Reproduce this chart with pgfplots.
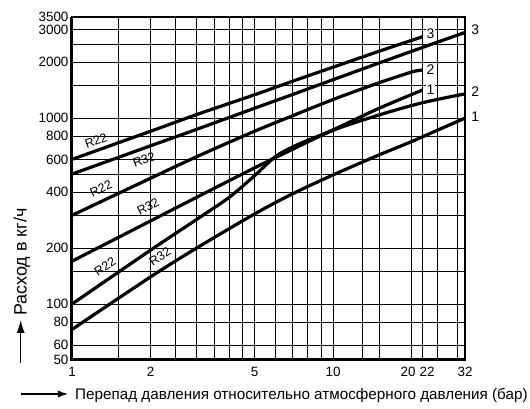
\documentclass[border=0pt]{standalone}
\usepackage{fontspec}
\setmainfont{Liberation Sans}
\usepackage{pgfplots}
\pgfplotsset{compat=1.18}
\usetikzlibrary{arrows.meta}
\begin{document}
\begin{tikzpicture}
\begin{axis}[
  xmode=log, ymode=log,
  scale only axis, width=393bp, height=343bp,
  xmin=1, xmax=32, ymin=50, ymax=3500,
  xtick={1,2,5,10,20,22,32},
  xticklabels={1,2,5,10,\hspace*{-7bp}20,22\hspace*{-9bp},32},
  minor xtick={1.5,2.5,3,3.5,4,4.5,6,7,8,9,13,15,25,30},
  ytick={50,60,80,100,200,400,600,800,1000,2000,3000,3500},
  yticklabels={50,60,80,100,200,400,600,800,1000,2000,3000,3500},
  minor ytick={150,300,500,1500,2500},
  grid=both,
  major grid style={black, line width=0.9bp},
  minor grid style={black, line width=0.9bp},
  tick style={draw=none},
  axis line style={black, line width=1.2bp},
  ticklabel style={font=\fontsize{13.5}{16}\selectfont},
  xticklabel style={yshift=-4bp},
  /pgf/number format/assume math mode=true,
  clip=false,
]
\coordinate (sw) at (rel axis cs:0,0);
\draw[line width=3bp] (rel axis cs:0,1) -- (rel axis cs:0,0) -- (rel axis cs:1,0);

% R22, curve 3
\addplot[black, line width=3.2bp, smooth] coordinates {(1,600) (2,850) (3,1045) (5,1335) (7,1580) (10,1880) (15,2290) (22,2740)};
% R32, curve 3
\addplot[black, line width=3.2bp, smooth] coordinates {(1,500) (2,710) (3,870) (5,1130) (7,1340) (10,1610) (15,1980) (22,2400) (32,2890)};
% R22, curve 2
\addplot[black, line width=3.2bp, smooth] coordinates {(1,300) (2,475) (3,620) (5,850) (7,1030) (10,1260) (15,1550) (20,1770) (22,1815)};
% R32, curve 2
\addplot[black, line width=3.2bp, smooth] coordinates {(1,170) (2,280) (3,375) (5,540) (7,680) (10,860) (15,1040) (22,1210) (32,1350)};
% R22, curve 1
\addplot[black, line width=3.2bp, smooth] coordinates {(1,100) (2,195) (3,285) (4,375) (5,490) (6,620) (7,700) (8,760) (10,865) (15,1130) (22,1416)};
% R32, curve 1
\addplot[black, line width=3.2bp, smooth] coordinates {(1,73) (2,140) (3,200) (5,305) (7,392) (10,495) (15,634) (20,748) (22,794) (32,1000)};

\tikzset{rl/.style={font=\fontsize{12.5}{14}\selectfont, inner sep=0pt}}
\node[rl, rotate=20] at (axis cs:1.236,754) {R22};
\node[rl, rotate=20] at (axis cs:1.888,596) {R32};
\node[rl, rotate=26] at (axis cs:1.291,416) {R22};
\node[rl, rotate=27] at (axis cs:1.955,333) {R32};
\node[rl, rotate=34] at (axis cs:1.338,158.6) {R22};
\node[rl, rotate=34] at (axis cs:2.174,179.6) {R32};

\tikzset{nl/.style={font=\fontsize{14}{16}\selectfont, inner sep=1bp}}
\node[nl, fill=white] at (axis cs:23.6,2837) {3};
\node[nl, fill=white] at (axis cs:23.6,1815) {2};
\node[nl, fill=white] at (axis cs:23.6,1416) {1};
\node[nl] at (axis cs:35,2979) {3};
\node[nl] at (axis cs:35,1384) {2};
\node[nl] at (axis cs:35,1014) {1};
\end{axis}

\begin{scope}[shift={(sw)}]
\draw[line width=1.2bp, -{Latex[length=13bp,width=8bp]}] (-51.3bp,-3bp) -- (-51.3bp,40bp);
\draw[line width=1.2bp, -{Latex[length=10bp,width=7bp]}] (-51bp,-34bp) -- (-4bp,-34bp);
\node[rotate=90, font=\fontsize{18}{21}\selectfont] at (-50bp,98bp) {Расход в кг/ч};
\node[anchor=west, font=\fontsize{15.3}{18}\selectfont, inner sep=0pt] at (3bp,-35bp) {Перепад давления относительно атмосферного давления (бар)};
\end{scope}

\pgfresetboundingbox
\path[use as bounding box] (sw) ++(-72bp,-49bp) rectangle ++(530bp,409bp);
\end{tikzpicture}
\end{document}
